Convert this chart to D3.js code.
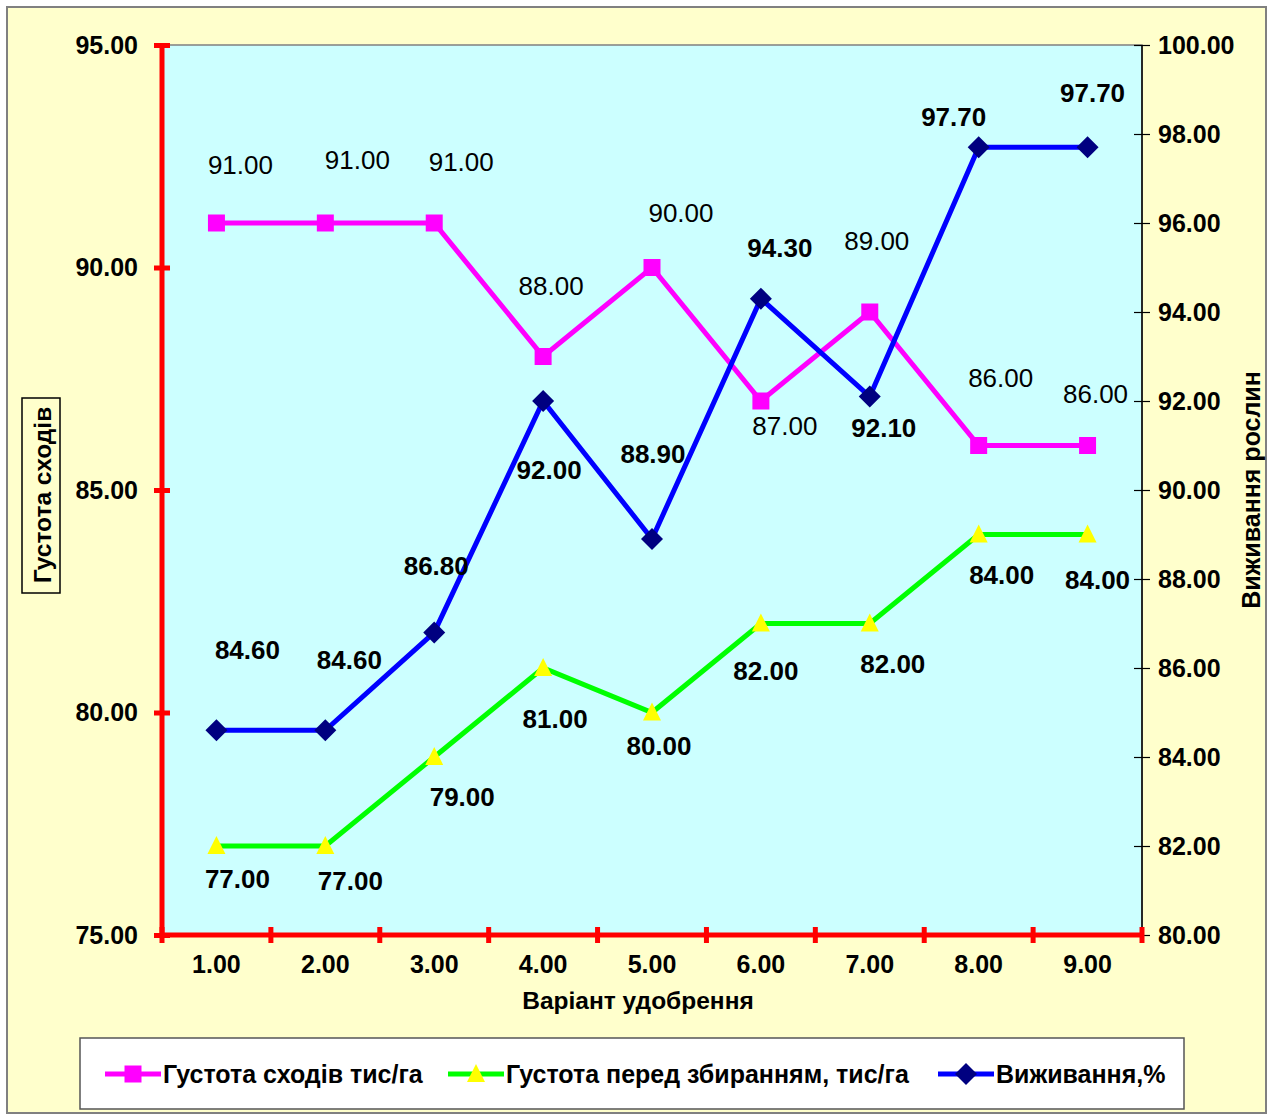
<!DOCTYPE html>
<html><head><meta charset="utf-8">
<script src="https://cdn.jsdelivr.net/npm/d3@7"></script>
<style>
html,body{margin:0;padding:0;background:#fff;}
svg{display:block;font-family:"Liberation Sans",Arial,sans-serif;}
</style></head>
<body>
<svg id="chart" width="1271" height="1115"></svg>
<script>
// ---- data ----
const categories = ["1.00","2.00","3.00","4.00","5.00","6.00","7.00","8.00","9.00"];
const densitySprout = [91,91,91,88,90,87,89,86,86];          // Густота сходів тис/га (left axis)
const densityHarvest = [77,77,79,81,80,82,82,84,84];         // Густота перед збиранням, тис/га (left axis)
const survival = [84.6,84.6,86.8,92.0,88.9,94.3,92.1,97.7,97.7]; // Виживання,% (right axis)
const leftTicks = [75,80,85,90,95];
const rightTicks = [80,82,84,86,88,90,92,94,96,98,100];
const seriesNames = ["Густота сходів тис/га","Густота перед збиранням, тис/га","Виживання,%"];
const xTitle = "Варіант удобрення";
const yLeftTitle = "Густота сходів";
const yRightTitle = "Виживання рослин";

// ---- layout (label offsets relative to points) ----
const offPink = [[24,-58],[32,-63],[27,-61],[8,-71],[29,-55],[24,25],[7,-71],[22,-68],[8,-52]];
const offGreen = [[21,33],[25,35],[28,40],[12,51],[7,33],[5,47],[23,40],[23,40],[10,45]];
const offBlue = [[31,-80],[24,-70],[2,-66],[6,69],[1,-85],[19,-51],[14,31],[-25,-30],[5,-54]];

const svg = d3.select("#chart");
const L = 162, R = 1142, T = 45, B = 935;

// outer background
svg.append("rect").attr("x",7).attr("y",7).attr("width",1259).attr("height",1106)
  .attr("fill","#FFFFCC").attr("stroke","#808080").attr("stroke-width",2);

// plot area
svg.append("rect").attr("x",L).attr("y",T).attr("width",R-L).attr("height",B-T)
  .attr("fill","#CCFFFF").attr("stroke","#808080").attr("stroke-width",1.5);

const x = d3.scaleBand().domain(categories).range([L,R]).padding(0);
const yL = d3.scaleLinear().domain([75,95]).range([B,T]);
const yR = d3.scaleLinear().domain([80,100]).range([B,T]);
const cx = c => x(c) + x.bandwidth()/2;

// right axis
const rAxis = svg.append("g").attr("transform",`translate(${R},0)`)
  .call(d3.axisRight(yR).tickValues(rightTicks).tickFormat(d3.format(".2f")).tickSize(8).tickPadding(8));
rAxis.select(".domain").attr("stroke","#000").attr("stroke-width",1.5).attr("d",`M0,${T}V${B}`);
rAxis.selectAll(".tick line").attr("x1",-8).attr("x2",8).attr("stroke","#000").attr("stroke-width",1.2);
rAxis.selectAll(".tick text").attr("x",16).attr("font-size",25).attr("font-weight","bold")
  .attr("font-family","Liberation Sans, Arial").attr("fill","#000");

// left axis
const lAxis = svg.append("g").attr("transform",`translate(${L},0)`)
  .call(d3.axisLeft(yL).tickValues(leftTicks).tickFormat(d3.format(".2f")).tickSize(8).tickPadding(8));
lAxis.select(".domain").attr("stroke","#FF0000").attr("stroke-width",5).attr("d",`M0,${T}V${B}`);
lAxis.selectAll(".tick line").attr("x1",-8).attr("x2",8).attr("stroke","#FF0000").attr("stroke-width",5);
lAxis.selectAll(".tick text").attr("x",-24).attr("font-size",25).attr("font-weight","bold")
  .attr("font-family","Liberation Sans, Arial").attr("fill","#000");

// bottom axis
const bAxis = svg.append("g").attr("transform",`translate(0,${B})`)
  .call(d3.axisBottom(x).tickSize(0).tickPadding(20));
bAxis.select(".domain").attr("stroke","#FF0000").attr("stroke-width",5).attr("d",`M${L},0H${R}`);
bAxis.selectAll(".tick text").attr("font-size",25).attr("font-weight","bold")
  .attr("font-family","Liberation Sans, Arial").attr("fill","#000");
const bounds = categories.map(c => x(c)).concat([R]);
bAxis.selectAll("line.bt").data(bounds).enter().append("line").attr("class","bt")
  .attr("x1",d=>d).attr("x2",d=>d).attr("y1",-8).attr("y2",8)
  .attr("stroke","#FF0000").attr("stroke-width",5);

// axis titles
svg.append("text").attr("x",638).attr("y",1000).attr("text-anchor","middle").attr("dominant-baseline","central")
  .attr("font-size",24.5).attr("font-weight","bold").text(xTitle);
svg.append("rect").attr("x",22).attr("y",398).attr("width",38).attr("height",195)
  .attr("fill","none").attr("stroke","#000").attr("stroke-width",1.5);
svg.append("text").attr("transform","translate(42,495) rotate(-90)").attr("text-anchor","middle")
  .attr("dominant-baseline","central").attr("font-size",24.5).attr("font-weight","bold").text(yLeftTitle);
svg.append("text").attr("transform","translate(1251,490) rotate(-90)").attr("text-anchor","middle")
  .attr("dominant-baseline","central").attr("font-size",25).attr("font-weight","bold").text(yRightTitle);

// series
const series = [
  {vals: densitySprout, y: yL, color:"#FF00FF", marker:"square", mfill:"#FF00FF", off: offPink, weight:"normal"},
  {vals: densityHarvest, y: yL, color:"#00FF00", marker:"triangle", mfill:"#FFFF00", off: offGreen, weight:"bold"},
  {vals: survival, y: yR, color:"#0000FF", marker:"diamond", mfill:"#000080", off: offBlue, weight:"bold"}
];

function drawMarker(g, m, fill){
  if(m==="diamond"){
    g.append("path").attr("d","M0,-11L11,0L0,11L-11,0Z").attr("fill",fill);
  } else if(m==="triangle"){
    g.append("path").attr("d","M0,-10L9,8L-9,8Z").attr("fill",fill);
  } else {
    g.append("path").attr("d","M-8.5,-8.5H8.5V8.5H-8.5Z").attr("fill",fill);
  }
}

series.forEach(s => {
  const line = d3.line().x((d,i)=>cx(categories[i])).y(d=>s.y(d));
  svg.append("path").datum(s.vals).attr("d",line).attr("fill","none")
    .attr("stroke",s.color).attr("stroke-width",5).attr("stroke-linejoin","miter");
});
series.forEach(s => {
  s.vals.forEach((v,i) => {
    const g = svg.append("g").attr("transform",`translate(${cx(categories[i])},${s.y(v)})`);
    drawMarker(g, s.marker, s.mfill);
  });
});
series.forEach(s => {
  svg.append("g").selectAll("text").data(s.vals).enter().append("text")
    .attr("x",(d,i)=>cx(categories[i]) + s.off[i][0])
    .attr("y",(d,i)=>s.y(d) + s.off[i][1])
    .attr("text-anchor","middle").attr("dominant-baseline","central")
    .attr("font-size",26).attr("font-weight",s.weight).attr("fill","#000")
    .text(d=>d3.format(".2f")(d));
});

// legend
svg.append("rect").attr("x",80).attr("y",1038).attr("width",1104).attr("height",71)
  .attr("fill","#FFFFFF").attr("stroke","#555").attr("stroke-width",1.5);
const legX = [105, 448, 938];
series.forEach((s,i) => {
  const g = svg.append("g").attr("transform",`translate(${legX[i]},1074)`);
  g.append("line").attr("x1",0).attr("x2",56).attr("y1",0).attr("y2",0)
    .attr("stroke",s.color).attr("stroke-width",5);
  const mg = g.append("g").attr("transform","translate(28,0)");
  drawMarker(mg, s.marker, s.mfill);
  g.append("text").attr("x",58).attr("y",0).attr("dominant-baseline","central")
    .attr("font-size",25).attr("font-weight","bold").text(seriesNames[i]);
});
</script>
</body></html>
